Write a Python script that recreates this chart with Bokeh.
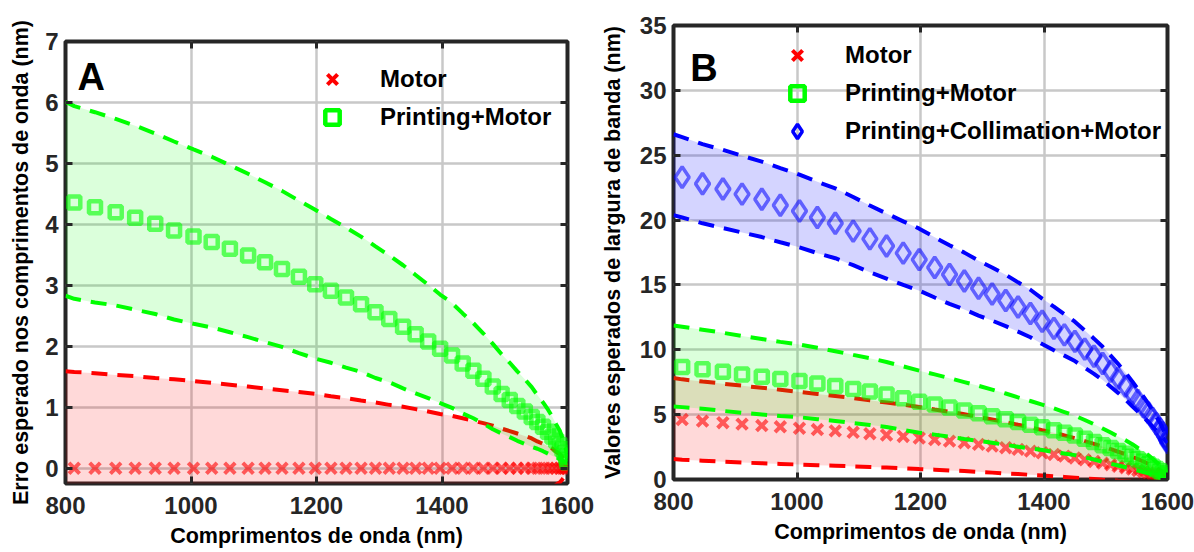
import numpy as np
from bokeh.plotting import figure
from bokeh.layouts import row, column
from bokeh.models import (Range1d, FixedTicker, LinearAxis, Legend, LegendItem,
                          Label, CustomJSTickFormatter)
from bokeh.embed import file_html
from bokeh.resources import INLINE

# ---------------- data ----------------
wavelength = [800, 814, 847, 880, 911, 943, 973, 1004, 1033, 1062, 1091,
              1118, 1145, 1172, 1198, 1223, 1247, 1271, 1294, 1316, 1338,
              1358, 1378, 1397, 1416, 1433, 1450, 1466, 1481, 1495, 1508,
              1520, 1532, 1543, 1552, 1561, 1569, 1576, 1582, 1588, 1592,
              1595, 1598, 1599, 1600]

# half-width of the uncertainty bands
err_A = [1.59, 1.58, 1.56, 1.53, 1.51, 1.48, 1.46, 1.43, 1.40, 1.37, 1.34,
         1.31, 1.28, 1.25, 1.22, 1.18, 1.15, 1.11, 1.08, 1.04, 1.01,
         0.97, 0.93, 0.89, 0.86, 0.82, 0.78, 0.74, 0.70, 0.65, 0.61,
         0.57, 0.53, 0.49, 0.44, 0.40, 0.36, 0.32, 0.27, 0.23, 0.18,
         0.14, 0.10, 0.05, 0.01]
err_B = [3.12, 3.10, 3.05, 3.01, 2.96, 2.91, 2.86, 2.80, 2.75, 2.69, 2.63,
         2.57, 2.51, 2.45, 2.39, 2.32, 2.26, 2.19, 2.12, 2.05, 1.98,
         1.90, 1.83, 1.75, 1.68, 1.60, 1.52, 1.44, 1.36, 1.28, 1.20,
         1.12, 1.04, 0.96, 0.87, 0.79, 0.70, 0.62, 0.53, 0.45, 0.36,
         0.28, 0.19, 0.10, 0.02]

# panel A: expected wavelength error (nm)
motor_A = [0.0, 0.0, 0.0, 0.0, 0.0, 0.0, 0.0, 0.0, 0.0, 0.0, 0.0,
           0.0, 0.0, 0.0, 0.0, 0.0, 0.0, 0.0, 0.0, 0.0, 0.0,
           0.0, 0.0, 0.0, 0.0, 0.0, 0.0, 0.0, 0.0, 0.0, 0.0,
           0.0, 0.0, 0.0, 0.0, 0.0, 0.0, 0.0, 0.0, 0.0, 0.0,
           0.0, 0.0, 0.0, 0.0]
printing_A = [4.42, 4.36, 4.28, 4.20, 4.11, 4.01, 3.90, 3.80, 3.71, 3.60, 3.49,
              3.38, 3.27, 3.14, 3.02, 2.91, 2.80, 2.69, 2.56, 2.45, 2.32,
              2.20, 2.08, 1.96, 1.85, 1.72, 1.60, 1.47, 1.34, 1.22, 1.12,
              1.02, 0.93, 0.84, 0.76, 0.68, 0.60, 0.52, 0.45, 0.38, 0.31,
              0.25, 0.19, 0.14, 0.10]

# panel B: expected bandwidth (nm)
motor_B = [4.70, 4.62, 4.50, 4.38, 4.27, 4.16, 4.06, 3.95, 3.85, 3.75, 3.64,
           3.53, 3.43, 3.32, 3.20, 3.08, 2.96, 2.84, 2.71, 2.58, 2.45,
           2.32, 2.19, 2.06, 1.93, 1.80, 1.66, 1.52, 1.39, 1.26, 1.14,
           1.02, 0.91, 0.80, 0.70, 0.60, 0.51, 0.43, 0.35, 0.28, 0.21,
           0.15, 0.10, 0.05, 0.01]
printing_B = [8.75, 8.68, 8.50, 8.30, 8.10, 7.92, 7.75, 7.60, 7.40, 7.20, 6.98,
              6.78, 6.55, 6.27, 6.00, 5.78, 5.55, 5.32, 5.10, 4.88, 4.65,
              4.43, 4.22, 4.02, 3.80, 3.60, 3.40, 3.15, 2.90, 2.65, 2.42,
              2.20, 1.98, 1.76, 1.56, 1.36, 1.17, 0.98, 0.81, 0.64, 0.48,
              0.34, 0.20, 0.10, 0.02]
collimation_B = [23.5, 23.3, 22.8, 22.4, 22.0, 21.6, 21.15, 20.7, 20.2, 19.75, 19.15,
                 18.55, 18.0, 17.45, 16.95, 16.35, 15.8, 15.3, 14.75, 14.3, 13.8,
                 13.3, 12.8, 12.2, 11.65, 11.15, 10.65, 10.05, 9.5, 8.95, 8.35,
                 7.8, 7.2, 6.6, 6.1, 5.6, 5.15, 4.7, 4.3, 3.9, 3.6,
                 3.35, 3.1, 3.0, 2.85]

x_ticks = [800, 1000, 1200, 1400, 1600]
y_ticks_A = [0, 1, 2, 3, 4, 5, 6, 7]
y_ticks_B = [0, 5, 10, 15, 20, 25, 30, 35]

labels = ["Motor", "Printing+Motor", "Printing+Collimation+Motor"]
x_title = "Comprimentos de onda (nm)"
y_title_A = "Erro esperado nos comprimentos de onda (nm)"
y_title_B = "Valores esperados de largura de banda (nm)"

# ---------------- styling ----------------
FONT = "Liberation Sans"
INK = "#262626"
RED, GREEN, BLUE = "#ff0000", "#00ff00", "#0000ff"
DASH = "16 10"
NAN = float("nan")


def make_fig(fw, fh, bl, br, bt, bb, yr, yticks, ytitle, ystand):
    p = figure(width=bl + fw + br, height=bt + fh + bb, x_range=Range1d(800, 1600),
               y_range=Range1d(*yr), output_backend="svg", toolbar_location=None,
               min_border_left=bl, min_border_right=br, min_border_top=bt,
               min_border_bottom=bb)
    p.background_fill_color = "white"
    p.border_fill_color = "white"
    p.outline_line_color = INK
    p.outline_line_width = 4
    p.outline_line_alpha = 1.0
    p.xaxis[0].ticker = FixedTicker(ticks=x_ticks)
    p.yaxis[0].ticker = FixedTicker(ticks=yticks)
    p.xaxis[0].axis_label = x_title
    p.yaxis[0].axis_label = ytitle
    for ax in (p.xaxis[0], p.yaxis[0]):
        ax.axis_line_color = None
        ax.major_tick_in = 7
        ax.major_tick_out = 0
        ax.major_tick_line_width = 3
        ax.major_tick_line_color = INK
        ax.minor_tick_line_color = None
        ax.major_label_text_font = FONT
        ax.major_label_text_font_style = "bold"
        ax.major_label_text_font_size = "24px"
        ax.major_label_text_color = INK
        ax.major_label_standoff = 7
        ax.axis_label_text_font = FONT
        ax.axis_label_text_font_style = "bold"
        ax.axis_label_text_font_size = "21.5px"
        ax.axis_label_text_color = "#000000"
    p.xaxis[0].axis_label_standoff = 7
    p.xaxis[0].major_label_standoff = 13
    p.yaxis[0].axis_label_standoff = ystand
    # mirrored tick marks on top and right (box on)
    for loc, tk in (("above", x_ticks), ("right", yticks)):
        ax = LinearAxis(ticker=FixedTicker(ticks=tk),
                        formatter=CustomJSTickFormatter(code="return ''"))
        ax.axis_line_color = None
        ax.major_tick_in = 7
        ax.major_tick_out = 0
        ax.major_tick_line_width = 3
        ax.major_tick_line_color = INK
        ax.minor_tick_line_color = None
        ax.major_label_standoff = 0
        ax.major_label_text_font_size = "1px"
        p.add_layout(ax, loc)
    p.xgrid.grid_line_color = "#c8c8c8"
    p.ygrid.grid_line_color = "#c8c8c8"
    p.xgrid.grid_line_width = 2.5
    p.ygrid.grid_line_width = 2.5
    return p


def band(p, mean, err, color, fill_alpha):
    m = np.array(mean)
    e = np.array(err)
    p.varea(x=wavelength, y1=m - e, y2=m + e, fill_color=color, fill_alpha=fill_alpha)
    p.line(wavelength, m + e, line_color=color, line_width=4, line_dash=DASH)
    p.line(wavelength, m - e, line_color=color, line_width=4, line_dash=DASH)


def marker_style(kind, alpha):
    if kind == "x":
        return dict(marker="x", size=15, line_width=4, line_color=RED, line_alpha=alpha)
    if kind == "square":
        return dict(marker="square", size=12, line_width=4.5, fill_color=None,
                    line_color=GREEN, line_alpha=alpha)
    return dict(marker="diamond", size=21, line_width=3.5, fill_color=None,
                line_color=BLUE, line_alpha=alpha)


def markers(p, mean, kind, alpha):
    p.scatter(wavelength[1:], mean[1:], **marker_style(kind, alpha))


def add_legend(p, kinds, loc):
    items = []
    for lab, kind in zip(labels, kinds):
        r = p.scatter([NAN], [NAN], **marker_style(kind, 1.0))
        items.append(LegendItem(label=lab, renderers=[r]))
    lg = Legend(items=items, location=loc, orientation="vertical",
                border_line_color=None, background_fill_alpha=0.0,
                padding=0, margin=0, spacing=2, glyph_width=36, glyph_height=36,
                label_height=36, label_standoff=30,
                label_text_font=FONT, label_text_font_style="bold",
                label_text_font_size="24px", label_text_color="#000000")
    p.add_layout(lg, "center")


# ---------------- panel A ----------------
pA = make_fig(502, 442, 65, 29, 41, 69, (-0.25, 7), y_ticks_A, y_title_A, 9)
band(pA, motor_A, err_A, RED, 0.15)
markers(pA, motor_A, "x", 0.6)
band(pA, printing_A, err_A, GREEN, 0.14)
markers(pA, printing_A, "square", 0.6)
add_legend(pA, ["x", "square"], (249, 348))
pA.add_layout(Label(x=819, y=6.42, text="A", text_font=FONT, text_font_style="bold",
                    text_font_size="38px", text_baseline="middle", text_color="#000000"))

# ---------------- panel B ----------------
pB = make_fig(494, 454, 77, 27, 25, 73, (0, 35), y_ticks_B, y_title_B, 12)
band(pB, motor_B, err_B, RED, 0.15)
markers(pB, motor_B, "x", 0.6)
band(pB, printing_B, err_B, GREEN, 0.14)
markers(pB, printing_B, "square", 0.6)
band(pB, collimation_B, err_B, BLUE, 0.17)
markers(pB, collimation_B, "diamond", 0.55)
add_legend(pB, ["x", "square", "diamond"], (106, 330))
pB.add_layout(Label(x=827, y=31.7, text="B", text_font=FONT, text_font_style="bold",
                    text_font_size="38px", text_baseline="middle", text_color="#000000"))

layout = row(column(pA), column(pB))
open("out.html", "w").write(file_html(layout, INLINE))
